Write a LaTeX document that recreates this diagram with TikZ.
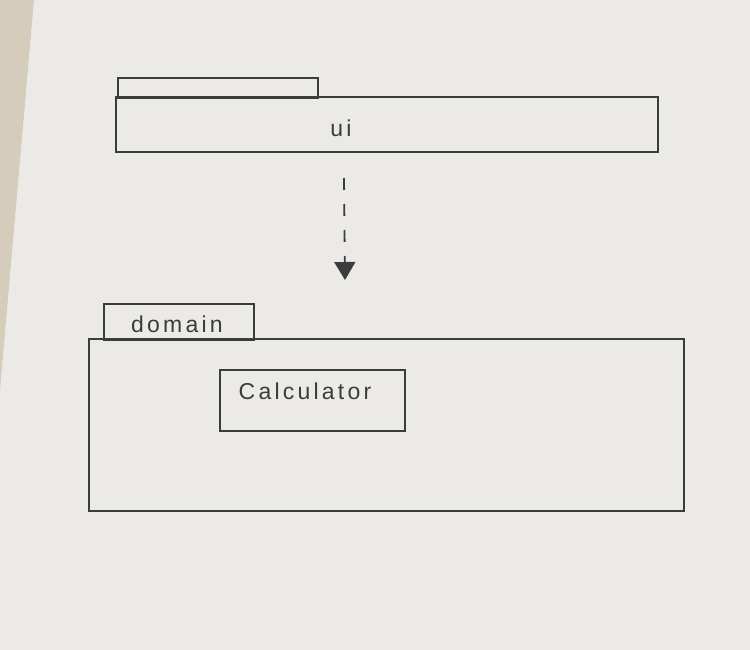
\documentclass[tikz,border=0pt]{standalone}
\usepackage{fontspec}
\setmainfont{Liberation Sans}[LetterSpace=14]
\usetikzlibrary{arrows.meta}
\definecolor{paper}{RGB}{236,234,230}
\definecolor{desk}{RGB}{214,204,188}
\definecolor{pencil}{RGB}{60,60,60}
\tikzset{
  pkgbox/.style={draw=pencil, line width=1.7pt, inner sep=0pt, anchor=north west},
  lbl/.style={text=pencil, font=\fontsize{23}{27}\selectfont},
  dep/.style={draw=pencil, line width=1.8pt, dash pattern=on 12pt off 14pt,
    -{Triangle[width=21pt,length=18pt,fill=pencil]}}
}
\begin{document}
\begin{tikzpicture}[x=1pt,y=-1pt]
  \useasboundingbox (0,0) rectangle (750,650);
  \fill[paper] (0,0) rectangle (750,650);
  \fill[desk] (0,0) -- (34,0) -- (0,390) -- cycle;
  % ui package
  \node[pkgbox, minimum width=200pt, minimum height=20pt] (uitab) at (117,77) {};
  \node[pkgbox, minimum width=542pt, minimum height=55pt] (ui) at (115,96) {};
  \node[lbl] (uilbl) at (341,128) {ui};
  % domain package
  \node[pkgbox, minimum width=150pt, minimum height=36pt] (domtab) at (103,303) {};
  \node[lbl] (domlbl) at (177,324) {domain};
  \node[pkgbox, minimum width=595pt, minimum height=172pt] (dom) at (88,338) {};
  \node[pkgbox, minimum width=185pt, minimum height=61pt] (calc) at (219,369) {};
  \node[lbl] (calclbl) at (305,391) {Calculator};
  % dependency
  \coordinate (a1) at (344,178);
  \coordinate (a2) at (345,280);
  \draw[dep] (a1) -- (a2);
\end{tikzpicture}
\end{document}
